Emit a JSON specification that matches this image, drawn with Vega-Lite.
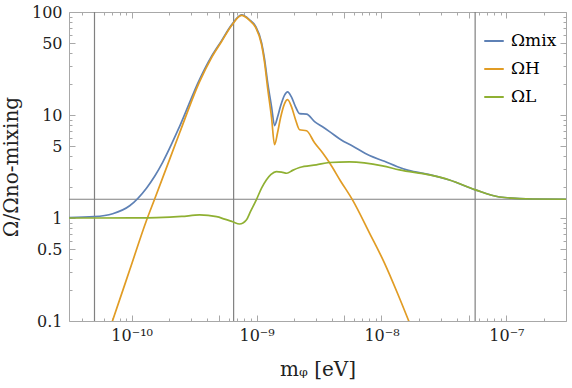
{
  "$schema": "https://vega.github.io/schema/vega-lite/v6.json",
  "width": 497,
  "height": 309,
  "autosize": "none",
  "padding": {"left": 69, "top": 12, "right": 6, "bottom": 67},
  "background": "white",
  "config": {
    "font": "DejaVu Serif",
    "view": {"stroke": "#a8a8a8", "strokeWidth": 1},
    "axis": {"grid": false, "domain": false, "tickColor": "#a8a8a8", "labelFont": "DejaVu Serif", "titleFont": "DejaVu Serif", "labelColor": "#222", "titleColor": "#222", "titleFontWeight": "normal"},
    "legend": {"labelFont": "DejaVu Serif"}
  },
  "datasets": {
    "curves": [
      {"m": 3.13e-11, "v": 1.01, "s": "Ωmix"},
      {"m": 5.01e-11, "v": 1.03, "s": "Ωmix"},
      {"m": 7.05e-11, "v": 1.1, "s": "Ωmix"},
      {"m": 9.64e-11, "v": 1.315, "s": "Ωmix"},
      {"m": 1.318e-10, "v": 1.96, "s": "Ωmix"},
      {"m": 1.528e-10, "v": 2.54, "s": "Ωmix"},
      {"m": 1.77e-10, "v": 3.47, "s": "Ωmix"},
      {"m": 2.421e-10, "v": 7.76, "s": "Ωmix"},
      {"m": 3.499e-10, "v": 22.2, "s": "Ωmix"},
      {"m": 4.365e-10, "v": 37.2, "s": "Ωmix"},
      {"m": 5.248e-10, "v": 52.7, "s": "Ωmix"},
      {"m": 6.31e-10, "v": 75.0, "s": "Ωmix"},
      {"m": 7.59e-10, "v": 93.6, "s": "Ωmix"},
      {"m": 8.79e-10, "v": 83.9, "s": "Ωmix"},
      {"m": 9.82e-10, "v": 72.5, "s": "Ωmix"},
      {"m": 1.096e-9, "v": 50.5, "s": "Ωmix"},
      {"m": 1.159e-9, "v": 34.7, "s": "Ωmix"},
      {"m": 1.225e-9, "v": 20.8, "s": "Ωmix"},
      {"m": 1.318e-9, "v": 12.0, "s": "Ωmix"},
      {"m": 1.393e-9, "v": 7.9, "s": "Ωmix"},
      {"m": 1.472e-9, "v": 9.54, "s": "Ωmix"},
      {"m": 1.556e-9, "v": 12.2, "s": "Ωmix"},
      {"m": 1.675e-9, "v": 15.6, "s": "Ωmix"},
      {"m": 1.77e-9, "v": 16.8, "s": "Ωmix"},
      {"m": 1.905e-9, "v": 14.9, "s": "Ωmix"},
      {"m": 2.051e-9, "v": 12.0, "s": "Ωmix"},
      {"m": 2.208e-9, "v": 10.3, "s": "Ωmix"},
      {"m": 2.512e-9, "v": 10.2, "s": "Ωmix"},
      {"m": 2.911e-9, "v": 8.63, "s": "Ωmix"},
      {"m": 3.373e-9, "v": 7.68, "s": "Ωmix"},
      {"m": 3.837e-9, "v": 6.9, "s": "Ωmix"},
      {"m": 4.7e-9, "v": 5.79, "s": "Ωmix"},
      {"m": 5.86e-9, "v": 5.0, "s": "Ωmix"},
      {"m": 8.02e-9, "v": 4.04, "s": "Ωmix"},
      {"m": 1.057e-8, "v": 3.55, "s": "Ωmix"},
      {"m": 1.343e-8, "v": 3.15, "s": "Ωmix"},
      {"m": 1.644e-8, "v": 2.9, "s": "Ωmix"},
      {"m": 2.421e-8, "v": 2.64, "s": "Ωmix"},
      {"m": 3.5e-8, "v": 2.34, "s": "Ωmix"},
      {"m": 5.65e-8, "v": 1.875, "s": "Ωmix"},
      {"m": 8.79e-8, "v": 1.6, "s": "Ωmix"},
      {"m": 1.614e-7, "v": 1.53, "s": "Ωmix"},
      {"m": 3.0e-7, "v": 1.52, "s": "Ωmix"},

      {"m": 6.6e-11, "v": 0.08, "s": "ΩH"},
      {"m": 7.05e-11, "v": 0.1016, "s": "ΩH"},
      {"m": 9.64e-11, "v": 0.312, "s": "ΩH"},
      {"m": 1.318e-10, "v": 0.956, "s": "ΩH"},
      {"m": 1.528e-10, "v": 1.53, "s": "ΩH"},
      {"m": 1.77e-10, "v": 2.45, "s": "ΩH"},
      {"m": 2.421e-10, "v": 6.72, "s": "ΩH"},
      {"m": 3.499e-10, "v": 21.1, "s": "ΩH"},
      {"m": 4.365e-10, "v": 36.1, "s": "ΩH"},
      {"m": 5.248e-10, "v": 51.7, "s": "ΩH"},
      {"m": 6.31e-10, "v": 74.1, "s": "ΩH"},
      {"m": 7.59e-10, "v": 92.7, "s": "ΩH"},
      {"m": 8.79e-10, "v": 82.8, "s": "ΩH"},
      {"m": 9.82e-10, "v": 70.8, "s": "ΩH"},
      {"m": 1.096e-9, "v": 48.4, "s": "ΩH"},
      {"m": 1.159e-9, "v": 32.3, "s": "ΩH"},
      {"m": 1.225e-9, "v": 18.4, "s": "ΩH"},
      {"m": 1.318e-9, "v": 9.4, "s": "ΩH"},
      {"m": 1.393e-9, "v": 5.14, "s": "ΩH"},
      {"m": 1.472e-9, "v": 6.72, "s": "ΩH"},
      {"m": 1.556e-9, "v": 9.4, "s": "ΩH"},
      {"m": 1.675e-9, "v": 12.9, "s": "ΩH"},
      {"m": 1.77e-9, "v": 14.1, "s": "ΩH"},
      {"m": 1.905e-9, "v": 12.0, "s": "ΩH"},
      {"m": 2.051e-9, "v": 9.0, "s": "ΩH"},
      {"m": 2.208e-9, "v": 7.19, "s": "ΩH"},
      {"m": 2.512e-9, "v": 7.03, "s": "ΩH"},
      {"m": 2.911e-9, "v": 5.37, "s": "ΩH"},
      {"m": 3.373e-9, "v": 4.3, "s": "ΩH"},
      {"m": 3.837e-9, "v": 3.44, "s": "ΩH"},
      {"m": 4.7e-9, "v": 2.29, "s": "ΩH"},
      {"m": 5.86e-9, "v": 1.5, "s": "ΩH"},
      {"m": 8.02e-9, "v": 0.714, "s": "ΩH"},
      {"m": 1.057e-8, "v": 0.365, "s": "ΩH"},
      {"m": 1.343e-8, "v": 0.186, "s": "ΩH"},
      {"m": 1.644e-8, "v": 0.1016, "s": "ΩH"},
      {"m": 1.77e-8, "v": 0.081, "s": "ΩH"},

      {"m": 3.13e-11, "v": 1.0, "s": "ΩL"},
      {"m": 5.01e-11, "v": 1.0, "s": "ΩL"},
      {"m": 1.0e-10, "v": 1.003, "s": "ΩL"},
      {"m": 1.585e-10, "v": 1.01, "s": "ΩL"},
      {"m": 2.512e-10, "v": 1.035, "s": "ΩL"},
      {"m": 3.5e-10, "v": 1.07, "s": "ΩL"},
      {"m": 4.786e-10, "v": 1.03, "s": "ΩL"},
      {"m": 5.55e-10, "v": 0.975, "s": "ΩL"},
      {"m": 6.43e-10, "v": 0.92, "s": "ΩL"},
      {"m": 7.31e-10, "v": 0.874, "s": "ΩL"},
      {"m": 8.28e-10, "v": 0.956, "s": "ΩL"},
      {"m": 8.95e-10, "v": 1.16, "s": "ΩL"},
      {"m": 9.95e-10, "v": 1.5, "s": "ΩL"},
      {"m": 1.096e-9, "v": 1.95, "s": "ΩL"},
      {"m": 1.197e-9, "v": 2.34, "s": "ΩL"},
      {"m": 1.306e-9, "v": 2.65, "s": "ΩL"},
      {"m": 1.439e-9, "v": 2.82, "s": "ΩL"},
      {"m": 1.585e-9, "v": 2.79, "s": "ΩL"},
      {"m": 1.746e-9, "v": 2.72, "s": "ΩL"},
      {"m": 1.941e-9, "v": 2.9, "s": "ΩL"},
      {"m": 2.208e-9, "v": 3.09, "s": "ΩL"},
      {"m": 3.006e-9, "v": 3.28, "s": "ΩL"},
      {"m": 3.837e-9, "v": 3.46, "s": "ΩL"},
      {"m": 5.546e-9, "v": 3.51, "s": "ΩL"},
      {"m": 1.019e-8, "v": 3.21, "s": "ΩL"},
      {"m": 1.393e-8, "v": 2.93, "s": "ΩL"},
      {"m": 2.421e-8, "v": 2.62, "s": "ΩL"},
      {"m": 3.5e-8, "v": 2.34, "s": "ΩL"},
      {"m": 5.65e-8, "v": 1.875, "s": "ΩL"},
      {"m": 8.79e-8, "v": 1.6, "s": "ΩL"},
      {"m": 1.614e-7, "v": 1.53, "s": "ΩL"},
      {"m": 3.0e-7, "v": 1.52, "s": "ΩL"}
    ],
    "vlines": [{"m": 5.04e-11}, {"m": 6.55e-10}, {"m": 5.62e-8}],
    "hline": [{"v": 1.52}]
  },
  "resolve": {"axis": {"x": "independent", "y": "independent"}},
  "layer": [
    {
      "data": {"name": "vlines"},
      "mark": {"type": "rule", "color": "#808080", "strokeWidth": 1.2},
      "encoding": {
        "x": {"field": "m", "type": "quantitative", "scale": {"type": "log", "domain": [3.15e-11, 3e-7], "nice": false},
          "axis": {"orient": "bottom", "values": [4e-11,6e-11,7e-11,8e-11,9e-11,2e-10,3e-10,4e-10,6e-10,7e-10,8e-10,9e-10,2e-9,3e-9,4e-9,6e-9,7e-9,8e-9,9e-9,2e-8,3e-8,4e-8,6e-8,7e-8,8e-8,9e-8,2e-7,3e-7], "labels": false, "tickSize": -3, "title": null}}
      }
    },
    {
      "data": {"name": "vlines"},
      "mark": {"type": "rule", "opacity": 0},
      "encoding": {
        "x": {"field": "m", "type": "quantitative",
          "axis": {"orient": "top", "values": [1e-10,1e-9,1e-8,1e-7,5e-11,5e-10,5e-9,5e-8], "labels": false, "tickSize": -6, "title": null}}
      }
    },
    {
      "data": {"name": "vlines"},
      "mark": {"type": "rule", "opacity": 0},
      "encoding": {
        "x": {"field": "m", "type": "quantitative",
          "axis": {"orient": "top", "values": [4e-11,6e-11,7e-11,8e-11,9e-11,2e-10,3e-10,4e-10,6e-10,7e-10,8e-10,9e-10,2e-9,3e-9,4e-9,6e-9,7e-9,8e-9,9e-9,2e-8,3e-8,4e-8,6e-8,7e-8,8e-8,9e-8,2e-7,3e-7], "labels": false, "tickSize": -3, "title": null}}
      }
    },
    {
      "data": {"name": "hline"},
      "mark": {"type": "rule", "color": "#808080", "strokeWidth": 1.2},
      "encoding": {
        "y": {"field": "v", "type": "quantitative", "scale": {"type": "log", "domain": [0.1, 100], "nice": false},
          "axis": {"orient": "left", "values": [0.2,0.3,0.4,0.6,0.7,0.8,0.9,2,3,4,6,7,8,9,20,30,40,60,70,80,90], "labels": false, "tickSize": -3, "title": null}}
      }
    },
    {
      "data": {"name": "hline"},
      "mark": {"type": "rule", "opacity": 0},
      "encoding": {
        "y": {"field": "v", "type": "quantitative",
          "axis": {"orient": "right", "values": [0.1,0.5,1,5,10,50,100], "labels": false, "tickSize": -6, "title": null}}
      }
    },
    {
      "data": {"name": "hline"},
      "mark": {"type": "rule", "opacity": 0},
      "encoding": {
        "y": {"field": "v", "type": "quantitative",
          "axis": {"orient": "right", "values": [0.2,0.3,0.4,0.6,0.7,0.8,0.9,2,3,4,6,7,8,9,20,30,40,60,70,80,90], "labels": false, "tickSize": -3, "title": null}}
      }
    },
    {
      "data": {"name": "curves"},
      "mark": {"type": "line", "strokeWidth": 1.7, "interpolate": "monotone", "clip": true},
      "encoding": {
        "x": {"field": "m", "type": "quantitative",
          "axis": {"orient": "bottom", "values": [1e-10, 1e-9, 1e-8, 1e-7, 5e-11, 5e-10, 5e-9, 5e-8], "tickSize": -6, "labelPadding": 12, "labelFontSize": 16,
            "labelExpr": "datum.value == 1e-10 ? '10⁻¹⁰' : datum.value == 1e-9 ? '10⁻⁹' : datum.value == 1e-8 ? '10⁻⁸' : datum.value == 1e-7 ? '10⁻⁷' : ''",
            "title": "mᵩ [eV]", "titleFontSize": 20, "titlePadding": 16}},
        "y": {"field": "v", "type": "quantitative",
          "axis": {"orient": "left", "values": [0.1, 0.5, 1, 5, 10, 50, 100], "tickSize": -6, "labelPadding": 13, "labelFontSize": 16, "format": "~g",
            "title": "Ω/Ωno-mixing", "titleFontSize": 20, "titlePadding": 10}},
        "color": {"field": "s", "type": "nominal", "sort": null,
          "scale": {"domain": ["Ωmix", "ΩH", "ΩL"], "range": ["#5E81B5", "#E19C24", "#8FB032"]},
          "legend": {"orient": "none", "legendX": 414, "legendY": 18, "title": null, "symbolType": "stroke", "symbolSize": 380, "symbolStrokeWidth": 2, "labelFontSize": 17, "rowPadding": 9, "labelOffset": 6}}
      }
    }
  ]
}
